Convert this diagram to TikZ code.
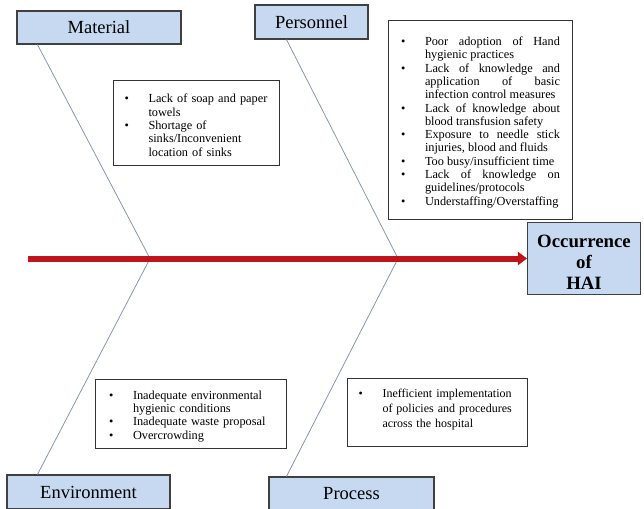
\documentclass[tikz,border=0pt]{standalone}
\usepackage{fontspec}
\setmainfont{Liberation Serif}
\usetikzlibrary{arrows.meta}
\definecolor{boxblue}{RGB}{198,217,241}
\definecolor{spinered}{RGB}{192,20,28}
\definecolor{bonegray}{RGB}{135,150,175}
\hyphenpenalty=10000 \exhyphenpenalty=10000 \tolerance=9999
\newenvironment{causelist}{\begin{list}{\textbullet}{%
  \setlength{\leftmargin}{24pt}\setlength{\labelwidth}{24pt}%
  \setlength{\labelsep}{0pt}\setlength{\itemsep}{0pt}\setlength{\parsep}{0pt}%
  \setlength{\topsep}{0pt}\setlength{\partopsep}{0pt}%
  \renewcommand{\makelabel}[1]{##1\hfil}}}{\end{list}}

\begin{document}
\begin{tikzpicture}[x=1pt,y=-1pt,
    cat/.style={draw=black!75, line width=1.1pt, fill=boxblue, inner sep=0pt,
      font=\fontsize{18.5}{22}\selectfont},
    causes/.style={draw=black!80, line width=1pt, fill=white, inner xsep=13pt,
      inner ysep=5pt, anchor=north west, align=left,
      font=\fontsize{12.3}{13.3}\selectfont},
    bone/.style={draw=bonegray, line width=0.8pt}]
  \useasboundingbox (0,0) rectangle (644,508);

  % category boxes
  \node[cat, minimum width=164pt, minimum height=33pt] (material) at (99,27.5) {Material};
  \node[cat, minimum width=113pt, minimum height=34pt] (personnel) at (311.5,22) {Personnel};
  \node[cat, minimum width=163pt, minimum height=34pt] (environment) at (88.5,492) {Environment};
  \node[cat, minimum width=165pt, minimum height=33pt] (process) at (351.5,493.5) {Process};
  \node[cat, font=\bfseries\fontsize{18.8}{21}\selectfont, align=center,
        minimum width=113pt, minimum height=72pt] (hai) at (584,258.5)
        {\rule{0pt}{19pt}Occurrence\\of\\HAI};

  % causes
  \node[causes, inner xsep=11pt, text width=144pt, minimum height=85pt] (matlist) at (113,80)
    {\begin{causelist}
     \item Lack of soap and paper towels
     \item Shortage of sinks/Inconvenient location of sinks
     \end{causelist}};
  \node[causes, inner xsep=12.5pt, text width=159pt, minimum height=199pt,
        align=justify] (perlist) at (388,20)
    {\begin{causelist}
     \item Poor adoption of Hand hygienic practices
     \item Lack of knowledge and application of basic infection control measures
     \item Lack of knowledge about blood transfusion safety
     \item Exposure to needle stick injuries, blood and fluids
     \item Too busy/insufficient time
     \item Lack of knowledge on guidelines/protocols
     \item Understaffing/Overstaffing
     \end{causelist}};
  \node[causes, inner xsep=13.5pt, text width=164pt, minimum height=69pt] (envlist) at (95,379)
    {\begin{causelist}
     \item Inadequate environmental hygienic conditions
     \item Inadequate waste proposal
     \item Overcrowding
     \end{causelist}};
  \node[causes, inner xsep=11pt, inner ysep=4pt, text width=158pt, minimum height=65pt,
        font=\fontsize{12}{15}\selectfont] (proclist) at (347,378)
    {\begin{causelist}
     \item Inefficient implementation of policies and procedures across the hospital
     \end{causelist}
     \par\vbox to 12pt{}};

  % bones and spine
  \coordinate (tail) at (28,258.5);
  \coordinate (j1) at (150,258.5);
  \coordinate (j2) at (398,258.5);
  \draw[bone] ([xshift=21pt]material.south west) -- (j1);
  \draw[bone] ([xshift=31pt]environment.north west) -- (j1);
  \draw[bone] ([xshift=32pt]personnel.south west) -- (j2);
  \draw[bone] ([xshift=18pt]process.north west) -- (j2);
  \draw[spinered, line width=6pt, -{Triangle[length=9pt,width=13pt]}] (tail) -- (hai);
\end{tikzpicture}
\end{document}
